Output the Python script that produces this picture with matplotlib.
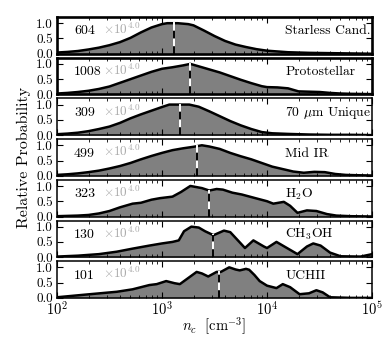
import numpy as np
import matplotlib
matplotlib.use("Agg")
import matplotlib.pyplot as plt
from matplotlib.ticker import LogLocator, NullFormatter

plt.rcParams["font.family"] = ["cmr10", "DejaVu Serif"]
plt.rcParams["mathtext.fontset"] = "cm"
plt.rcParams["axes.unicode_minus"] = False
plt.rcParams["axes.formatter.use_mathtext"] = True

# panel labels, counts and the medians (log10 n_c)
labels = ["Starless Cand.", "Protostellar", r"70 $\mu$m Unique", "Mid IR",
          r"H$_2$O", r"CH$_3$OH", "UCHII"]
counts = ["604", "1008", "309", "499", "323", "130", "101"]
medians = [3.11, 3.27, 3.17, 3.33, 3.45, 3.49, 3.54]

# curves: log10(n_c) and relative probability
starless_x = [2.0, 2.1, 2.2, 2.3, 2.4, 2.5, 2.6, 2.7, 2.8, 2.9, 3.0, 3.05, 3.15, 3.25, 3.3,
              3.4, 3.5, 3.6, 3.7, 3.8, 3.9, 4.0, 4.2, 4.4, 4.6, 4.8, 5.0]
starless_y = [0.04, 0.06, 0.09, 0.14, 0.2, 0.28, 0.38, 0.52, 0.7, 0.86, 0.97, 1.0, 1.0, 0.97, 0.93,
              0.76, 0.58, 0.42, 0.3, 0.22, 0.15, 0.1, 0.05, 0.03, 0.02, 0.01, 0.0]

proto_x = [2.0, 2.1, 2.2, 2.3, 2.4, 2.5, 2.6, 2.7, 2.8, 2.9, 3.0, 3.1, 3.2, 3.27, 3.35, 3.45,
           3.55, 3.65, 3.75, 3.85, 3.95, 4.0, 4.1, 4.2, 4.3, 4.4, 4.5, 4.6, 4.7, 4.8, 5.0]
proto_y = [0.03, 0.05, 0.08, 0.12, 0.18, 0.26, 0.38, 0.5, 0.62, 0.74, 0.84, 0.89, 0.95, 1.0, 0.92, 0.82,
           0.72, 0.6, 0.48, 0.37, 0.27, 0.24, 0.23, 0.2, 0.1, 0.09, 0.08, 0.05, 0.03, 0.02, 0.01]

unique70_x = [2.0, 2.1, 2.2, 2.3, 2.4, 2.5, 2.6, 2.7, 2.8, 2.9, 3.0, 3.07, 3.26, 3.35, 3.45,
              3.55, 3.65, 3.75, 3.85, 3.95, 4.05, 4.2, 4.4, 4.6, 4.8, 5.0]
unique70_y = [0.03, 0.05, 0.08, 0.13, 0.2, 0.28, 0.4, 0.55, 0.68, 0.8, 0.92, 1.0, 1.0, 0.93, 0.78,
              0.62, 0.46, 0.32, 0.2, 0.1, 0.06, 0.04, 0.02, 0.01, 0.01, 0.0]

midir_x = [2.0, 2.1, 2.2, 2.3, 2.4, 2.5, 2.6, 2.7, 2.8, 2.9, 3.0, 3.1, 3.2, 3.3, 3.38, 3.45,
           3.55, 3.65, 3.75, 3.85, 3.95, 4.05, 4.15, 4.25, 4.35, 4.45, 4.55, 4.65, 4.75, 4.85, 5.0]
midir_y = [0.03, 0.05, 0.08, 0.12, 0.17, 0.24, 0.32, 0.42, 0.54, 0.65, 0.75, 0.84, 0.9, 0.95, 1.0, 0.96,
           0.88, 0.75, 0.64, 0.54, 0.42, 0.3, 0.22, 0.14, 0.1, 0.13, 0.12, 0.06, 0.03, 0.02, 0.01]

h2o_x = [2.0, 2.1, 2.2, 2.3, 2.4, 2.5, 2.6, 2.72, 2.8, 2.9, 2.98, 3.1, 3.18, 3.27, 3.38, 3.45,
         3.52, 3.58, 3.67, 3.76, 3.89, 4.0, 4.06, 4.16, 4.22, 4.29, 4.38, 4.47, 4.57, 4.66, 4.8, 5.0]
h2o_y = [0.01, 0.02, 0.03, 0.05, 0.1, 0.18, 0.3, 0.42, 0.45, 0.55, 0.6, 0.65, 0.8, 1.0, 0.93, 0.85,
         0.9, 0.88, 0.78, 0.72, 0.6, 0.5, 0.42, 0.48, 0.35, 0.12, 0.2, 0.18, 0.08, 0.03, 0.01, 0.0]

ch3oh_x = [2.0, 2.2, 2.4, 2.57, 2.72, 2.88, 3.0, 3.1, 3.16, 3.21, 3.28, 3.35, 3.41, 3.49, 3.59,
           3.65, 3.75, 3.79, 3.87, 3.97, 4.0, 4.09, 4.19, 4.29, 4.38, 4.44, 4.51, 4.6, 4.7, 4.89, 5.0]
ch3oh_y = [0.02, 0.05, 0.1, 0.18, 0.28, 0.38, 0.45, 0.5, 0.55, 0.85, 1.0, 0.97, 0.85, 0.72, 0.87,
           0.82, 0.45, 0.3, 0.55, 0.35, 0.3, 0.5, 0.3, 0.1, 0.35, 0.45, 0.38, 0.15, 0.03, 0.02, 0.1]

uchii_x = [2.0, 2.25, 2.57, 2.72, 2.88, 2.95, 3.04, 3.12, 3.17, 3.25, 3.33, 3.38, 3.44, 3.52, 3.56,
           3.64, 3.7, 3.74, 3.8, 3.83, 3.88, 3.93, 4.0, 4.09, 4.15, 4.22, 4.31, 4.4, 4.47, 4.53, 4.6,
           4.8, 5.0]
uchii_y = [0.02, 0.1, 0.2, 0.28, 0.42, 0.45, 0.55, 0.48, 0.45, 0.65, 0.85, 0.8, 0.7, 0.85, 0.85,
           1.0, 0.93, 0.9, 0.95, 0.92, 0.75, 0.55, 0.4, 0.32, 0.45, 0.35, 0.12, 0.15, 0.25, 0.18, 0.02,
           0.0, 0.0]

curves = [(starless_x, starless_y), (proto_x, proto_y), (unique70_x, unique70_y),
          (midir_x, midir_y), (h2o_x, h2o_y), (ch3oh_x, ch3oh_y), (uchii_x, uchii_y)]

fig, axes = plt.subplots(7, 1, figsize=(3.9, 3.42), dpi=100, sharex=True)
fig.subplots_adjust(left=0.146, right=0.954, top=0.950, bottom=0.129, hspace=0.11)

for i, ax in enumerate(axes):
    lx, py = curves[i]
    n = 10 ** np.array(lx)
    py = np.array(py)
    ax.fill_between(n, 0, py, color="#808080", lw=0)
    ax.plot(n, py, color="k", lw=1.8)

    # median marker
    med = 10 ** medians[i]
    top = np.interp(medians[i], lx, py)
    ax.plot([med, med], [0, top], color="white", lw=1.4)
    ax.plot([med, med], [0, top], color="k", lw=1.4, dashes=(4, 4))

    ax.set_xscale("log")
    ax.set_xlim(1e2, 1e5)
    ax.set_ylim(0, 1.2)
    ax.set_yticks([0.0, 0.5, 1.0])
    ax.set_yticklabels(["0.0", "0.5", "1.0"])
    ax.xaxis.set_minor_locator(LogLocator(base=10, subs=np.arange(2, 10), numticks=20))
    ax.xaxis.set_minor_formatter(NullFormatter())
    ax.tick_params(which="both", direction="in", top=True, right=True, labelsize=9.5)
    ax.tick_params(which="major", length=4, width=0.8, pad=3)
    ax.tick_params(which="minor", length=2, width=0.6)

    lw = 1.9 if i < 2 else 1.1
    for sp in ax.spines.values():
        sp.set_linewidth(lw)

    ax.text(0.054, 0.61, counts[i], transform=ax.transAxes, fontsize=10,
            va="center", ha="left", color="k")
    ax.text(0.146, 0.66, r"$\times10^{4.0}$", transform=ax.transAxes, fontsize=9.5,
            va="center", ha="left", color="#aaaaaa")
    ax.text(0.724, 0.61, labels[i], transform=ax.transAxes, fontsize=9.8,
            va="center", ha="left", color="k")

axes[-1].set_xlabel(r"$n_c\ \ [\mathrm{cm}^{-3}]$", fontsize=10.5, labelpad=-2)
axes[-1].tick_params(axis="x", labelsize=10.5, pad=2)
fig.text(0.062, 0.541, "Relative Probability", rotation=90, va="center", ha="center",
         fontsize=11.5)

fig.savefig("out.png", dpi=100)
